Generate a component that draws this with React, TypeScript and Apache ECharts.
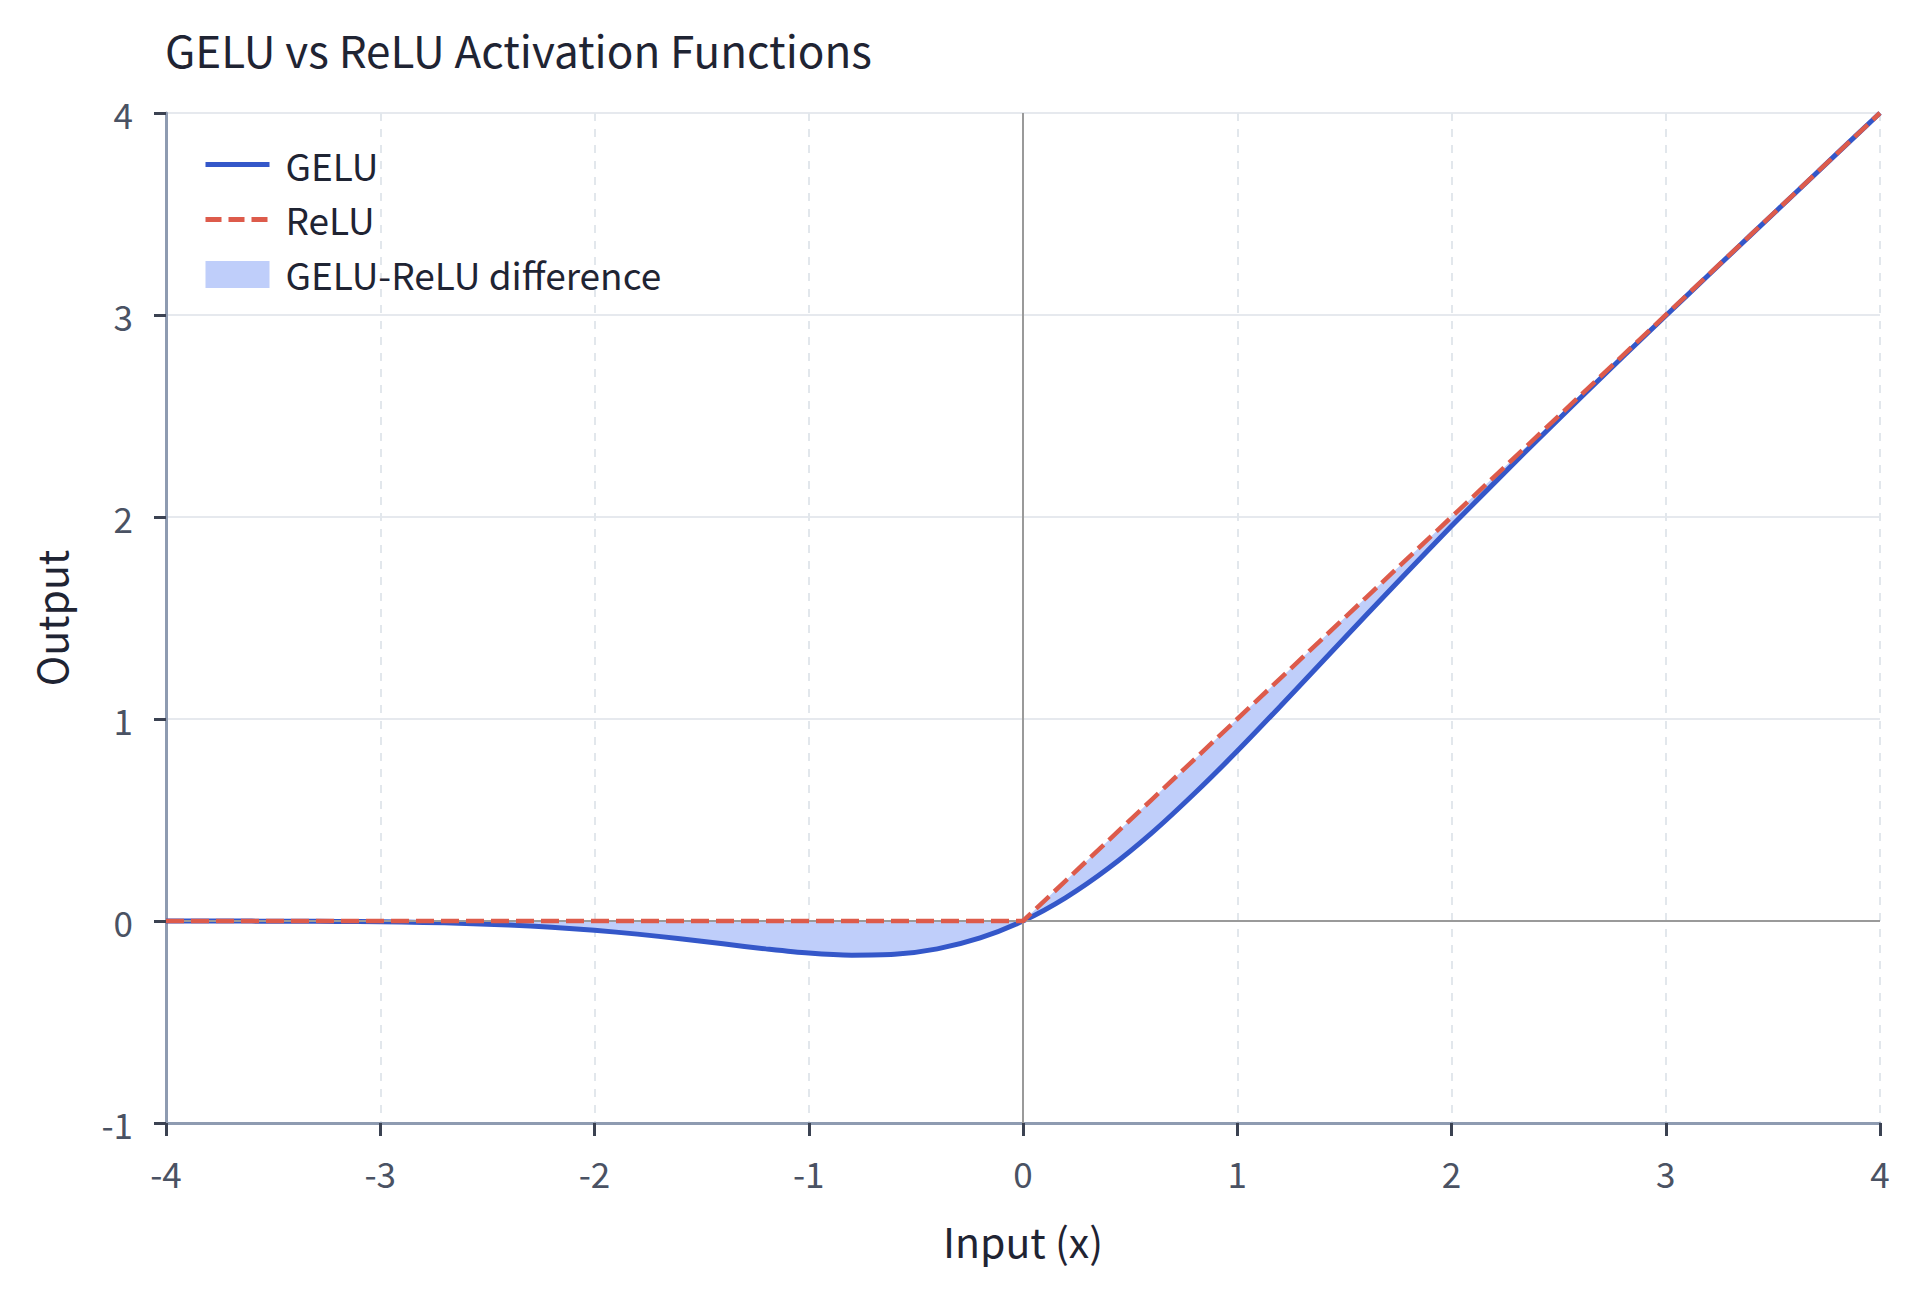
import React, { useEffect, useRef } from "react";
import * as echarts from "echarts";

const xValues = [
  -4, -3.8, -3.6, -3.4, -3.2, -3, -2.8, -2.6, -2.4, -2.2, -2, -1.8, -1.6, -1.4, -1.2, -1, -0.8, -0.6, -0.4, -0.2,
  0, 0.2, 0.4, 0.6, 0.8, 1, 1.2, 1.4, 1.6, 1.8, 2, 2.2, 2.4, 2.6, 2.8, 3, 3.2, 3.4, 3.6, 3.8, 4,
];
const geluValues = [
  -0.0001, -0.0003, -0.0006, -0.0011, -0.0022, -0.004, -0.007, -0.012, -0.02, -0.031, -0.046, -0.065, -0.088,
  -0.113, -0.138, -0.159, -0.169, -0.165, -0.138, -0.084,
  0, 0.116, 0.262, 0.435, 0.631, 0.841, 1.062, 1.287, 1.512, 1.735, 1.955, 2.169, 2.38, 2.588, 2.793, 2.996,
  3.198, 3.399, 3.599, 3.8, 4,
];
const reluValues = [
  0, 0, 0, 0, 0, 0, 0, 0, 0, 0, 0, 0, 0, 0, 0, 0, 0, 0, 0, 0,
  0, 0.2, 0.4, 0.6, 0.8, 1, 1.2, 1.4, 1.6, 1.8, 2, 2.2, 2.4, 2.6, 2.8, 3, 3.2, 3.4, 3.6, 3.8, 4,
];
const xTicks = [-4, -3, -2, -1, 0, 1, 2, 3, 4];
const yTicks = [-1, 0, 1, 2, 3, 4];

const FONT = "'Noto Sans CJK KR', 'Noto Sans', sans-serif";
const FILL = "#bfcefa";

export default function App() {
  const chartRef = useRef<HTMLDivElement>(null);

  useEffect(() => {
    document.body.style.margin = "0";
    if (!chartRef.current) return;
    const chart = echarts.init(chartRef.current, undefined, { renderer: "svg" });

    const gelu = xValues.map((x, i) => [x, geluValues[i]]);
    const relu = xValues.map((x, i) => [x, reluValues[i]]);

    const option: echarts.EChartsOption = {
      animation: false,
      backgroundColor: "#ffffff",
      textStyle: { fontFamily: FONT },
      title: {
        text: "GELU vs ReLU Activation Functions",
        left: 160,
        top: 22,
        textStyle: { fontFamily: FONT, fontSize: 44, fontWeight: "normal", color: "#1f2433" },
      },
      legend: {
        orient: "vertical",
        left: 198,
        top: 141,
        itemWidth: 64,
        itemHeight: 27,
        itemGap: 18,
        textStyle: { fontFamily: FONT, fontSize: 37, color: "#1f2433", padding: [0, 0, 0, 11] },
        data: [
          { name: "GELU", itemStyle: { opacity: 0 }, lineStyle: { width: 5 } },
          { name: "ReLU", itemStyle: { opacity: 0 }, lineStyle: { width: 5, type: [16, 7] } },
          { name: "GELU-ReLU difference", icon: "rect", itemStyle: { color: FILL } },
        ],
      },
      grid: { left: 166, right: 40, top: 113, bottom: 169 },
      xAxis: {
        type: "value",
        min: xTicks[0],
        max: xTicks[xTicks.length - 1],
        interval: 1,
        name: "Input (x)",
        nameLocation: "middle",
        nameGap: 96,
        nameTextStyle: { fontFamily: FONT, fontSize: 41, color: "#1f2433" },
        axisLine: { onZero: false, lineStyle: { color: "#8e9bb1", width: 3 } },
        axisTick: { length: 13, lineStyle: { color: "#3b4252", width: 3 } },
        axisLabel: { fontFamily: FONT, fontSize: 35, color: "#4a5263", margin: 32 },
        splitLine: { show: true, lineStyle: { color: "#e2e7ec", width: 2, type: [8, 8] } },
      },
      yAxis: {
        type: "value",
        min: yTicks[0],
        max: yTicks[yTicks.length - 1],
        interval: 1,
        name: "Output",
        nameLocation: "middle",
        nameGap: 96,
        nameTextStyle: { fontFamily: FONT, fontSize: 41, color: "#1f2433" },
        axisLine: { show: true, onZero: false, lineStyle: { color: "#8e9bb1", width: 3 } },
        axisTick: { show: true, length: 12, lineStyle: { color: "#3b4252", width: 3 } },
        axisLabel: { fontFamily: FONT, fontSize: 35, color: "#4a5263", margin: 33 },
        splitLine: { show: true, lineStyle: { color: "#e6e9ee", width: 2 } },
      },
      series: [
        {
          name: "GELU-ReLU difference",
          type: "custom",
          z: 2,
          silent: true,
          itemStyle: { color: FILL },
          data: [0],
          renderItem: (_params: any, api: any) => {
            const top = relu.map((p) => api.coord(p));
            const bottom = gelu.map((p) => api.coord(p)).reverse();
            return {
              type: "polygon",
              shape: { points: top.concat(bottom) },
              style: { fill: FILL, stroke: "none" },
            };
          },
          markLine: {
            silent: true,
            symbol: "none",
            label: { show: false },
            lineStyle: { color: "#9a9a9a", width: 2, type: "solid" },
            data: [{ xAxis: 0 }, { yAxis: 0 }],
          },
        } as any,
        {
          name: "GELU",
          type: "line",
          data: gelu,
          symbol: "none",
          smooth: 0.3,
          z: 4,
          itemStyle: { color: "#3457c9" },
          lineStyle: { color: "#3457c9", width: 5 },
        },
        {
          name: "ReLU",
          type: "line",
          data: relu,
          symbol: "none",
          z: 5,
          itemStyle: { color: "#dd5b4b" },
          lineStyle: { color: "#dd5b4b", width: 4.5, type: [18, 7] },
        },
      ],
    };

    chart.setOption(option);
    return () => chart.dispose();
  }, []);

  return <div ref={chartRef} style={{ width: 1920, height: 1292 }} />;
}
